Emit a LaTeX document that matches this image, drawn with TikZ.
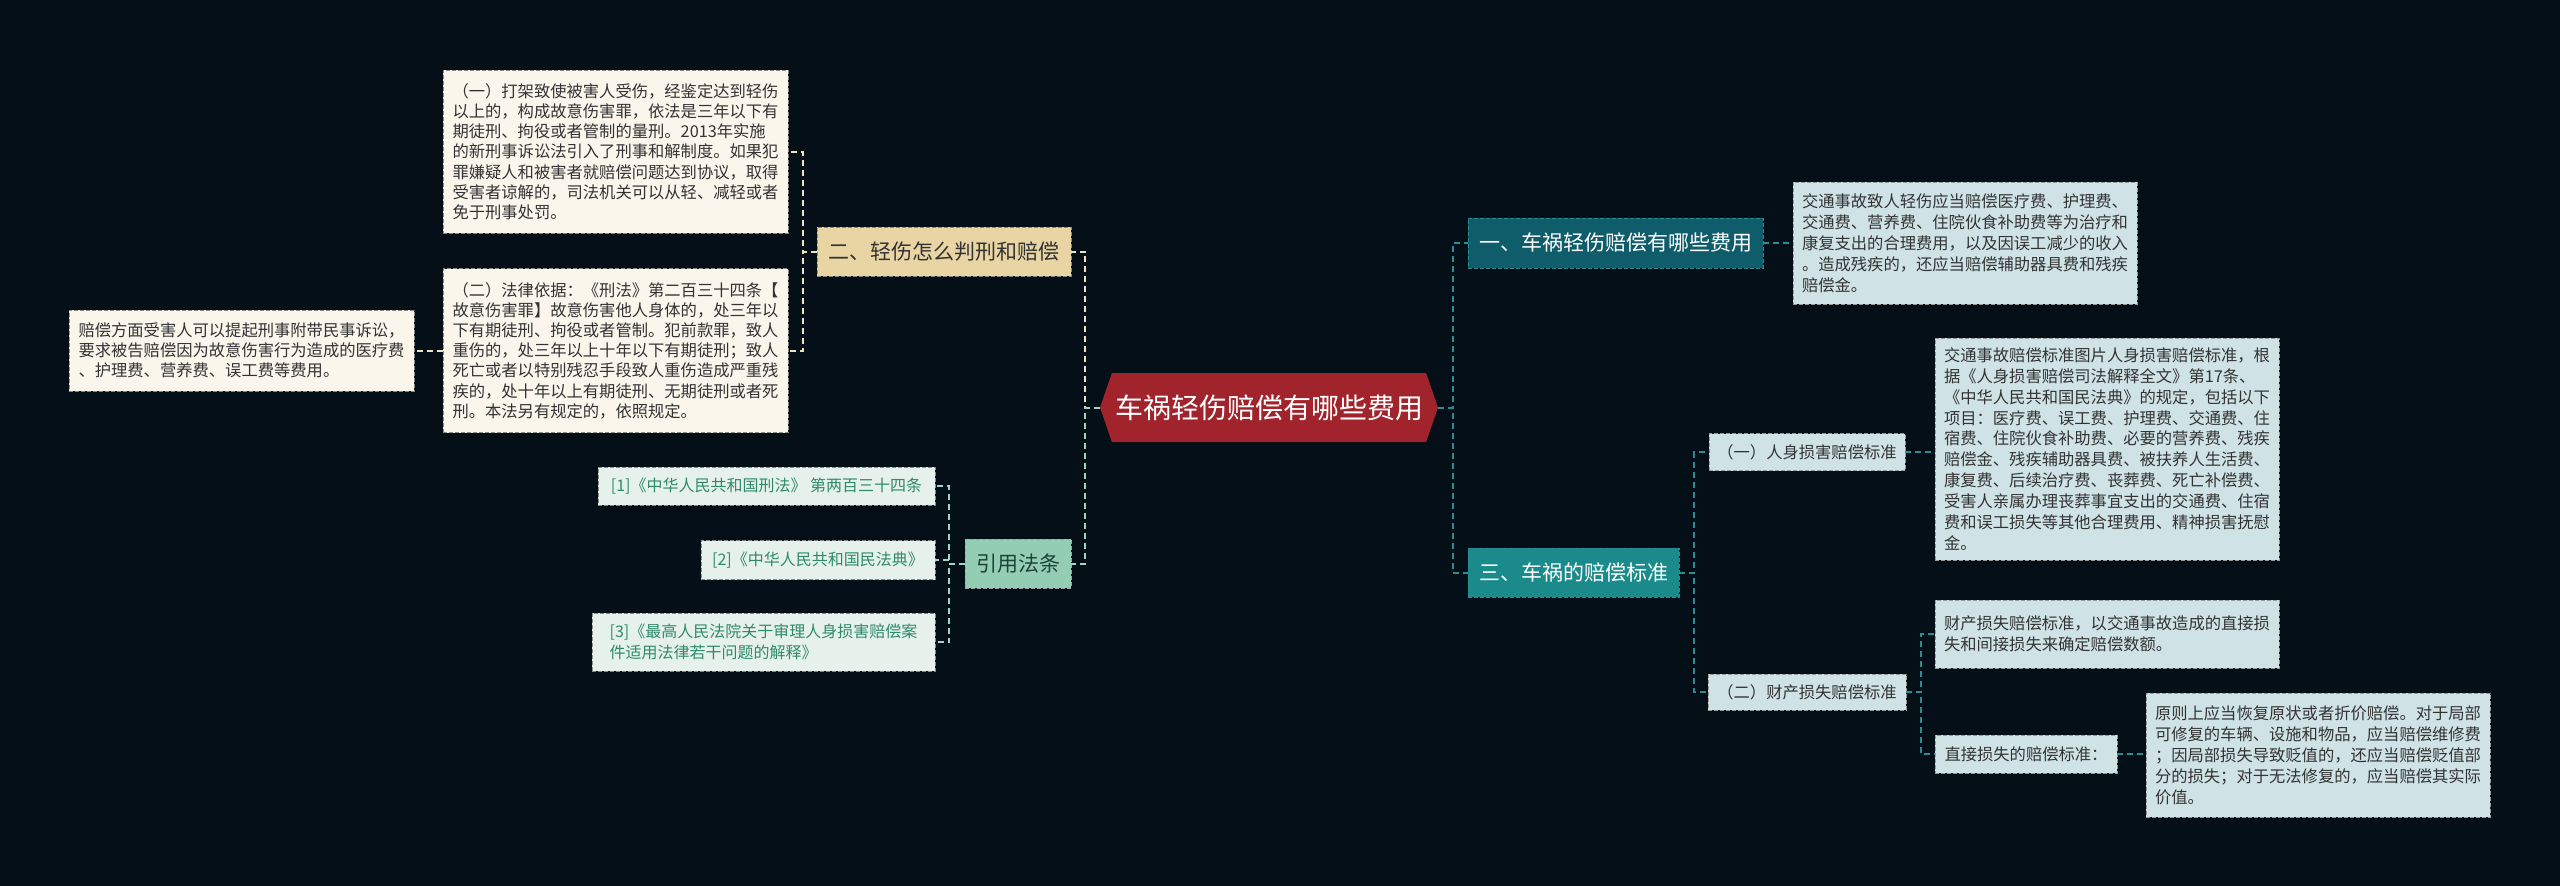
\documentclass[tikz,border=0pt]{standalone}
\usepackage{fontspec}
\setmainfont{Noto Sans CJK SC}
\usetikzlibrary{shapes.symbols}
\definecolor{bg}{HTML}{040F17}
\definecolor{cred}{HTML}{A1232B}
\definecolor{creamfill}{HTML}{FAF6EC}
\definecolor{creamborder}{HTML}{8A8A80}
\definecolor{beigefill}{HTML}{E8D5A3}
\definecolor{mintfill}{HTML}{93CDB4}
\definecolor{reffill}{HTML}{E6F1EC}
\definecolor{reftext}{HTML}{2F8A6C}
\definecolor{darktealfill}{HTML}{0F5C6B}
\definecolor{tealfill}{HTML}{1A8A8A}
\definecolor{bluefill}{HTML}{CFE2E6}
\definecolor{darktext}{HTML}{333333}
\definecolor{lncream}{HTML}{EDE3C4}
\definecolor{lnmint}{HTML}{9DD6C2}
\definecolor{lnteal}{HTML}{2A8D96}
\tikzset{
  base/.style={inner sep=0pt, outer sep=0pt, align=left, line width=1pt, dash pattern=on 4pt off 2pt},
  creambox/.style={base, fill=creamfill, draw=creamborder, text=darktext, font=\fontsize{16.3}{20.2}\selectfont},
  refbox/.style={base, fill=reffill, draw=creamborder, text=reftext, font=\fontsize{16}{20.5}\selectfont},
  bluebox/.style={base, fill=bluefill, draw=gray!80, text=darktext, font=\fontsize{16.3}{20.9}\selectfont},
  lvlone/.style={base, font=\fontsize{21}{24}\selectfont, align=center},
  conn/.style={line width=2pt, dash pattern=on 6pt off 4pt},
  ccream/.style={conn, draw=lncream},
  cmint/.style={conn, draw=lnmint},
  cteal/.style={conn, draw=lnteal}
}
\begin{document}
\begin{tikzpicture}[x=1pt,y=-1pt]
\useasboundingbox (0,0) rectangle (2560,886);
\fill[bg] (0,0) rectangle (2560,886);

% central
\node[signal, signal to=west and east, signal pointer angle=142, fill=cred, draw=none,
  minimum width=338, minimum height=69, inner sep=0pt, text=white,
  font=\fontsize{28}{30}\selectfont] (c) at (1269,407.5) {车祸轻伤赔偿有哪些费用};

% left level 1
\node[lvlone, fill=beigefill, draw=creamborder, text=darktext, minimum width=254, minimum height=49] (n2) at (944,251.5) {二、轻伤怎么判刑和赔偿};
\node[lvlone, fill=mintfill, draw=gray!70, text={rgb,255:red,30;green,66;blue,56}, minimum width=106, minimum height=49] (cite) at (1018,563.5) {引用法条};

% left text boxes
\node[creambox, minimum width=345, minimum height=163] (b1) at (615.5,151.5) {（一）打架致使被害人受伤，经鉴定达到轻伤\\以上的，构成故意伤害罪，依法是三年以下有\\期徒刑、拘役或者管制的量刑。2013年实施\\的新刑事诉讼法引入了刑事和解制度。如果犯\\罪嫌疑人和被害者就赔偿问题达到协议，取得\\受害者谅解的，司法机关可以从轻、减轻或者\\免于刑事处罚。};
\node[creambox, minimum width=345, minimum height=164] (b2) at (615.5,350.5) {（二）法律依据：《刑法》第二百三十四条【\\故意伤害罪】故意伤害他人身体的，处三年以\\下有期徒刑、拘役或者管制。犯前款罪，致人\\重伤的，处三年以上十年以下有期徒刑；致人\\死亡或者以特别残忍手段致人重伤造成严重残\\疾的，处十年以上有期徒刑、无期徒刑或者死\\刑。本法另有规定的，依照规定。};
\node[creambox, minimum width=345, minimum height=81] (b3) at (241.5,350.5) {赔偿方面受害人可以提起刑事附带民事诉讼，\\要求被告赔偿因为故意伤害行为造成的医疗费\\、护理费、营养费、误工费等费用。};

% refs
\node[refbox, minimum width=337, minimum height=38] (r1) at (766.5,486) {[1]《中华人民共和国刑法》 第两百三十四条};
\node[refbox, minimum width=234, minimum height=39] (r2) at (818,560) {[2]《中华人民共和国民法典》};
\node[refbox, minimum width=343, minimum height=58] (r3) at (763.5,642) {[3]《最高人民法院关于审理人身损害赔偿案\\件适用法律若干问题的解释》};

% right level 1
\node[lvlone, fill=darktealfill, draw=lnteal, text=white, minimum width=295, minimum height=50] (n1) at (1615.5,243) {一、车祸轻伤赔偿有哪些费用};
\node[lvlone, fill=tealfill, draw=lnteal, text=white, minimum width=211, minimum height=49] (n3) at (1573.5,572.5) {三、车祸的赔偿标准};

% right text boxes
\node[bluebox, minimum width=344, minimum height=122] (t1) at (1965,243) {交通事故致人轻伤应当赔偿医疗费、护理费、\\交通费、营养费、住院伙食补助费等为治疗和\\康复支出的合理费用，以及因误工减少的收入\\。造成残疾的，还应当赔偿辅助器具费和残疾\\赔偿金。};
\node[bluebox, align=center, minimum width=196, minimum height=37] (p1) at (1807,452) {（一）人身损害赔偿标准};
\node[bluebox, minimum width=344, minimum height=222] (t2) at (2107,449) {交通事故赔偿标准图片人身损害赔偿标准，根\\据《人身损害赔偿司法解释全文》第17条、\\《中华人民共和国民法典》的规定，包括以下\\项目：医疗费、误工费、护理费、交通费、住\\宿费、住院伙食补助费、必要的营养费、残疾\\赔偿金、残疾辅助器具费、被扶养人生活费、\\康复费、后续治疗费、丧葬费、死亡补偿费、\\受害人亲属办理丧葬事宜支出的交通费、住宿\\费和误工损失等其他合理费用、精神损害抚慰\\金。};
\node[bluebox, align=center, minimum width=198, minimum height=36] (p2) at (1807,692) {（二）财产损失赔偿标准};
\node[bluebox, minimum width=344, minimum height=68] (t3) at (2107,634) {财产损失赔偿标准，以交通事故造成的直接损\\失和间接损失来确定赔偿数额。};
\node[bluebox, align=center, minimum width=182, minimum height=38] (q) at (2026,754) {直接损失的赔偿标准：};
\node[bluebox, minimum width=344, minimum height=124] (t4) at (2318,755) {原则上应当恢复原状或者折价赔偿。对于局部\\可修复的车辆、设施和物品，应当赔偿维修费\\；因局部损失导致贬值的，还应当赔偿贬值部\\分的损失；对于无法修复的，应当赔偿其实际\\价值。};

% junction coordinates
\coordinate (jL) at (1085,407.5);
\coordinate (jR) at (1453,407.5);
\coordinate (j2) at (803,251.5);
\coordinate (j3) at (949,563.5);
\coordinate (j4) at (1694,572.5);
\coordinate (j5) at (1921,692);

% connectors
\draw[ccream] (c.west) -- (jL) |- (n2.east);
\draw[cmint] (c.west) -- (jL) |- (cite.east);
\draw[cteal] (c.east) -- (jR) |- (n1.west);
\draw[cteal] (c.east) -- (jR) |- (n3.west);

\draw[ccream] (n2.west) -- (j2) |- (b1.east);
\draw[ccream] (n2.west) -- (j2) |- (b2.east);
\draw[ccream] (b2.west) -- (b3.east);

\draw[cmint] (cite.west) -- (j3) |- (r1.east);
\draw[cmint] (cite.west) -- (j3) |- (r2.east);
\draw[cmint] (cite.west) -- (j3) |- (r3.east);

\draw[cteal] (n1.east) -- (t1.west);
\draw[cteal] (n3.east) -- (j4) |- (p1.west);
\draw[cteal] (n3.east) -- (j4) |- (p2.west);
\draw[cteal] (p1.east) -- (t2.west |- p1.east);
\draw[cteal] (p2.east) -- (j5) |- (t3.west);
\draw[cteal] (p2.east) -- (j5) |- (q.west);
\draw[cteal] (q.east) -- (t4.west |- q.east);
\end{tikzpicture}
\end{document}
